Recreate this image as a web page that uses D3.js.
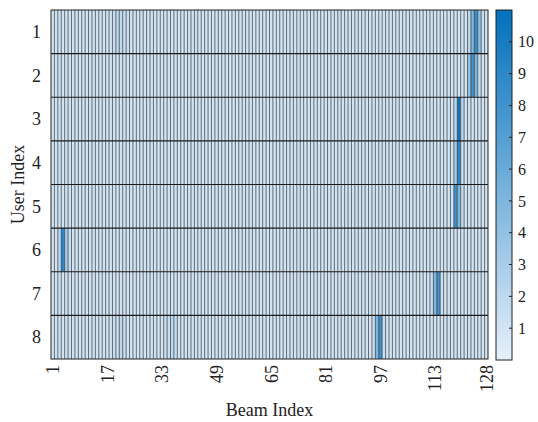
<!DOCTYPE html>
<html>
<head>
<meta charset="utf-8">
<script src="https://cdn.jsdelivr.net/npm/d3@7"></script>
<style>
  body { margin: 0; background: #fff; }
  .chart { width: 538px; height: 422px; }
  svg text { font-family: "Times New Roman", "Liberation Serif", Times, serif; fill: #222; }
</style>
</head>
<body>
<div class="chart"></div>
<script>
// Beam gain per user (rows) over 128 beams
const users = [1, 2, 3, 4, 5, 6, 7, 8];
const beams = d3.range(1, 129);
const xTicks = [1, 17, 33, 49, 65, 81, 97, 113, 128];
const cTicks = [1, 2, 3, 4, 5, 6, 7, 8, 9, 10];
const cDomain = [0, 11];

// each line holds 32 beams (1-32, 33-64, 65-96, 97-128)
const user1 = [
  1,1,1,1,1,1,1,1, 1,1,1,1,1,1,1,1, 1,1,1.5,2,2,1.5,1.5,1, 1,1,1,1,1,1,1,1,
  1,1,1,1,1,1,1,1, 1,1,1.5,1,1,1,1,1, 1,1,1,1,1,1,1,1, 1,1,1,1,1,1,1,1,
  1,1,1,1,1,1,1,1, 1,1,1,1,1,1,1,1, 1,1,1,1,1.5,1,1,1, 1,1,1,1,1,1,1,1,
  1,1,1,1,1,1,1,1, 1,1,1,1,1,1,1,1, 1,1,1,1,1,1,1,1, 1,1,2,5,8.5,4,1.5,1
];
const user2 = [
  1,1,1,1,1,1,1,1, 1,1,1,1,1,1,1,1, 1,1,1,1,1,1,1,1, 1,1,1,1,1,1,1,1,
  1,1,1,1,1,1,1,1, 1,1,1,1,1,1,1,1, 1,1,1,1,1,1,1,1, 1,1,1,1,1,1,1,1,
  1,1,1,1,1,1,1,1, 1,1,1,1,1,1,1,1, 1,1,1,1,1,1,1,1, 1,1,1,1,1,1,1,1,
  1,1,1,1,1,1,1,1, 1,1,1,1,1,1,1,1, 1,1,1,1,1,1,1,1, 1,1,4,8,5,1.5,1,1
];
const user3 = [
  1,1,1,1,1,1,1,1, 1,1,1,1,1,1,1,1, 1,1,1,1,1,1,1,1, 1,1,1,1,1,1,1,1,
  1,1,1,1,1,1,1,1, 1,1,1,1,1,1,1,1, 1,1,1,1,1,1,1,1, 1,1,1,1,1,1,1,1,
  1,1,1,1,1,1,1,1, 1,1,1,1,1,1,1,1, 1,1,1,1,1,1,1,1, 1,1,1,1,1,1,1,1,
  1,1,1,1,1,1,1,1, 1,1,1,1,1,1,1,1, 1,1,1,1,1,1,2,10.5, 2,1,1,1,1,1,1,1
];
const user4 = [
  1,1,1,1,1,1,1,1, 1,1,1,1,1,1,1,1, 1,1,1,1,1,1,1,1, 1,1,1,1,1,1,1,1,
  1,1,1,1,1,1,1,1, 1,1,1,1,1,1,1,1, 1,1,1,1,1,1,1,1, 1,1,1,1,1,1,1,1,
  1,1,1,1,1,1,1,1, 1,1,1,1,1,1,1,1, 1,1,1,1,1,1,1,1, 1,1,1,1,1,1,1,1,
  1,1,1,1,1,1,1,1, 1,1,1,1,1,1,1,1, 1,1,1,1,1,1,3,9, 1.5,1,1,1,1,1,1,1
];
const user5 = [
  1,1,1,1,1,1,1,1, 1,1,1,1,1,1,1,1, 1,1,1,1,1,1,1,1, 1,1,1,1,1,1,1,1,
  1,1,1,1,1,1,1,1, 1,1,1,1,1,1,1,1, 1,1,1,1,1,1,1,1, 1,1,1,1,1,1,1,1,
  1,1,1,1,1,1,1,1, 1,1,1,1,1,1,1,1, 1,1,1,1,1,1,1,1, 1,1,1,1,1,1,1,1,
  1,1,1,1,1,1,1,1, 1,1,1,1,1,1,1,1, 1,1,1,1,1,1,8,5, 1.5,1,1,1,1,1,1,1
];
const user6 = [
  1,1,2,9,3,1.5,1,1, 1,1,1,1,1,1,1,1, 1,1,1,1,1,1,1,1, 1,1,1,1,1,1,1,1,
  1,1,1,1,1,1,1,1, 1,1,1,1,1,1,1,1, 1,1,1,1,1,1,1,1, 1,1,1,1,1,1,1,1,
  1,1,1,1,1,1,1,1, 1,1,1,1,1,1,1,1, 1,1,1,1,1,1,1,1, 1,1,1,1,1,1,1,1,
  1,1,1,1,1,1,1,1, 1,1,1,1,1,1,1,1, 1,1,1,1,1,1,1,1, 1,1,1,1,1,1,1,1
];
const user7 = [
  1,1,1,1,1,1,1,1, 1,1,1,1,1,1,1,1, 1,1,1,1,1,1,1,1, 1,1,1,1,1,1,1,1,
  1,1,1,1,1,1,1,1, 1,1,1,1,1,1,1,1, 1,1,1,1,1,1,1,1, 1,1,1,1,1,1,1,1,
  1,1,1,1,1,1,1,1, 1,1,1,1,1,1,1,1, 1,1,1,1,1,1,1,1, 1,1,1,1,1,1,1,1,
  1,1,1,1,1,1,1,1, 1,1,1,1,1,1,1,1.5, 5,8,1.5,1,1,1,1,1, 1,1,1,1,1,1,1,1
];
const user8 = [
  1,1,1,1,1,1,1,1, 1,1,1,1,1,1,1,1, 1,1,1.5,1.5,2,1.5,1,1, 1,1,1,1,1,1,1,1,
  1,1.5,1.5,2,1.5,1,1,1, 1,1,1,1,1,1,1,1, 1,1,1,1,1,1,1,1, 1,1,1,1,1,1,1,1,
  1,1,1,1,1,1,1,1, 1,1,1,1,1,1,1,1, 1,1,1,1,1,1,1,1, 1,1,1,1,1,1,1.5,5,
  8,1.5,1,1,1,1,1,1, 1,1,1,1,1,1,1,1, 1,1,1,1,1,1,1,1, 1,1,1,1,1,1,1,1
];
const values = [user1, user2, user3, user4, user5, user6, user7, user8];

const W = 538, H = 422;
const margin = {t:10, r:50, b:63, l:51};
const w = 437, h = 349;

const svg = d3.select('.chart').append('svg')
  .attr('width', W).attr('height', H)
  .attr('font-family', '"Times New Roman", "Liberation Serif", serif');
const plot = svg.append('g')
  .attr('transform', `translate(${margin.l}, ${margin.t})`);

const x = d3.scaleBand().domain(beams).range([0, w]);
const y = d3.scaleBand().domain(users).range([0, h]);
const color = d3.scaleLinear().domain(cDomain).range(['#e6f0fa', '#0270bd']);

const cells = [];
values.forEach(function(row, i){
  row.forEach(function(v, j){
    cells.push({user: users[i], beam: beams[j], value: v});
  });
});

plot.selectAll('.cell').data(cells).enter()
  .append('rect').attr('class', 'cell')
  .attr('x', d => x(d.beam))
  .attr('y', d => y(d.user))
  .attr('width', x.bandwidth())
  .attr('height', y.bandwidth())
  .style('fill', d => color(d.value));

// cell edges
plot.selectAll('.vline').data(beams.slice(1)).enter()
  .append('line').attr('class', 'vline')
  .attr('x1', d => x(d)).attr('x2', d => x(d))
  .attr('y1', 0).attr('y2', h)
  .style('stroke', '#262626').style('stroke-width', 0.65);

plot.selectAll('.hline').data(users.slice(1)).enter()
  .append('line').attr('class', 'hline')
  .attr('x1', 0).attr('x2', w)
  .attr('y1', d => y(d)).attr('y2', d => y(d))
  .style('stroke', '#1a1a1a').style('stroke-width', 1.2);

plot.append('rect')
  .attr('width', w).attr('height', h)
  .style('fill', 'none').style('stroke', '#222').style('stroke-width', 1);

// y labels
plot.selectAll('.ylab').data(users).enter()
  .append('text').attr('class', 'ylab')
  .attr('x', -10)
  .attr('y', d => y(d) + y.bandwidth() / 2)
  .attr('text-anchor', 'end')
  .attr('dy', '0.35em')
  .style('font-size', '18px')
  .text(d => d);

// x labels, rotated
plot.selectAll('.xlab').data(xTicks).enter()
  .append('text').attr('class', 'xlab')
  .attr('transform', d => `translate(${x(d) + x.bandwidth() / 2}, ${h + 6}) rotate(-90)`)
  .attr('text-anchor', 'end')
  .attr('dy', '0.35em')
  .style('font-size', '18px')
  .text(d => d);

svg.append('text')
  .attr('x', margin.l + w / 2).attr('y', 416)
  .attr('text-anchor', 'middle')
  .style('font-size', '18px')
  .text('Beam Index');

svg.append('text')
  .attr('transform', `translate(24, ${margin.t + h / 2}) rotate(-90)`)
  .attr('text-anchor', 'middle')
  .style('font-size', '18px')
  .text('User Index');

// colorbar
const cb = svg.append('g').attr('transform', `translate(496, ${margin.t})`);
const cbW = 16, cbH = 350;
const cy = d3.scaleLinear().domain(cDomain).range([cbH, 0]);

const defs = svg.append('defs');
const grad = defs.append('linearGradient').attr('id', 'cgrad')
  .attr('x1', 0).attr('y1', 1).attr('x2', 0).attr('y2', 0);
grad.selectAll('stop').data(cDomain).enter()
  .append('stop')
  .attr('offset', (d, i) => i)
  .attr('stop-color', d => color(d));

cb.append('rect')
  .attr('width', cbW).attr('height', cbH)
  .style('fill', 'url(#cgrad)')
  .style('stroke', '#222').style('stroke-width', 1);

cb.selectAll('.ctick').data(cTicks).enter()
  .append('line').attr('class', 'ctick')
  .attr('x1', cbW - 3).attr('x2', cbW)
  .attr('y1', d => cy(d)).attr('y2', d => cy(d))
  .style('stroke', '#222').style('stroke-width', 1);

cb.selectAll('.clab').data(cTicks).enter()
  .append('text').attr('class', 'clab')
  .attr('x', cbW + 6)
  .attr('y', d => cy(d))
  .attr('dy', '0.35em')
  .style('font-size', '16px')
  .text(d => d);
</script>
</body>
</html>
